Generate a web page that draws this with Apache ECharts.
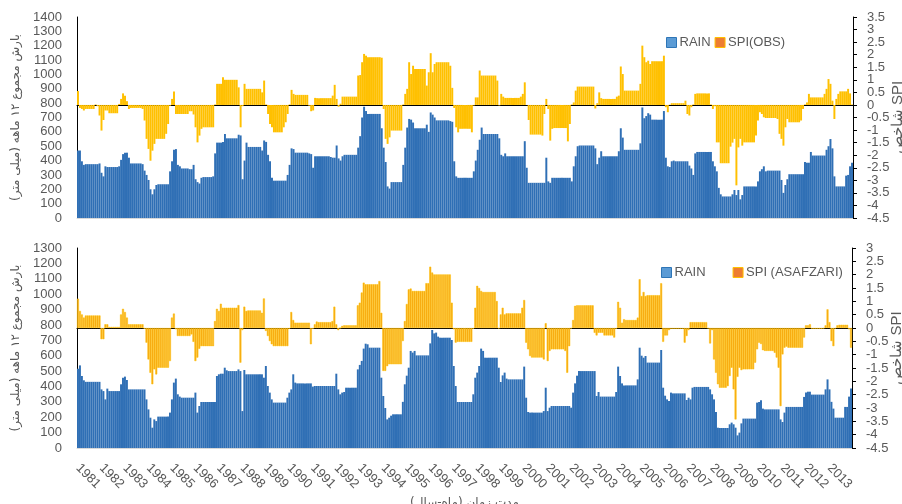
<!DOCTYPE html>
<html>
<head>
<meta charset="utf-8">
<script src="https://cdn.jsdelivr.net/npm/echarts/dist/echarts.min.js"></script>
<style>
  html, body { margin: 0; padding: 0; background: #ffffff; }
  #chart { width: 902px; height: 504px; }
</style>
</head>
<body>
<div id="chart"></div>
<script>
// Years on the time axis (monthly values, Jan 1981 - Dec 2013)
const years = [1981, 1982, 1983, 1984, 1985, 1986, 1987, 1988, 1989, 1990, 1991,
  1992, 1993, 1994, 1995, 1996, 1997, 1998, 1999, 2000, 2001, 2002,
  2003, 2004, 2005, 2006, 2007, 2008, 2009, 2010, 2011, 2012, 2013];

// 12-month rainfall total (mm), observed station - one row per year
const rainObs = [
  470, 470, 395, 370, 375, 375, 375, 375, 375, 375, 375, 380,
  315, 290, 360, 355, 355, 355, 355, 355, 355, 360, 405, 445,
  455, 455, 420, 380, 380, 380, 380, 380, 380, 375, 330, 300,
  265, 200, 165, 200, 230, 235, 235, 235, 235, 235, 235, 325,
  395, 475, 480, 370, 360, 345, 345, 345, 345, 340, 340, 370,
  270, 250, 240, 280, 285, 285, 285, 285, 285, 290, 450, 525,
  525, 525, 530, 585, 555, 555, 555, 555, 555, 555, 580, 575,
  270, 400, 525, 495, 495, 495, 495, 495, 495, 495, 470, 540,
  530, 440, 395, 280, 260, 260, 260, 260, 260, 260, 260, 300,
  370, 485, 480, 455, 455, 455, 455, 455, 455, 455, 450, 445,
  350, 430, 430, 430, 430, 430, 430, 430, 430, 425, 420, 420,
  505, 415, 400, 430, 440, 440, 440, 440, 440, 440, 440, 490,
  570, 700, 775, 745, 725, 725, 725, 725, 725, 725, 725, 625,
  490, 390, 220, 205, 250, 250, 250, 250, 250, 250, 370, 490,
  630, 690, 685, 665, 625, 625, 625, 625, 625, 625, 650, 600,
  735, 720, 700, 680, 680, 680, 680, 680, 680, 680, 675, 670,
  395, 290, 280, 280, 280, 280, 280, 280, 280, 280, 325, 400,
  475, 545, 630, 585, 585, 585, 585, 585, 585, 585, 585, 555,
  440, 430, 450, 430, 430, 430, 430, 430, 430, 430, 430, 430,
  535, 350, 245, 245, 245, 245, 245, 245, 245, 245, 245, 420,
  255, 245, 280, 280, 280, 280, 280, 280, 280, 280, 280, 280,
  255, 360, 430, 500, 505, 505, 505, 505, 505, 505, 505, 505,
  485, 375, 420, 465, 430, 430, 430, 430, 430, 430, 430, 430,
  465, 625, 560, 475, 475, 475, 475, 475, 475, 475, 475, 520,
  770, 695, 710, 730, 720, 685, 685, 685, 685, 685, 685, 745,
  420, 360, 355, 395, 400, 395, 395, 395, 395, 395, 395, 395,
  365, 345, 300, 450, 460, 460, 460, 460, 460, 460, 460, 460,
  395, 360, 325, 210, 165, 150, 150, 150, 150, 150, 165, 195,
  160, 195, 130, 160, 220, 220, 220, 220, 220, 220, 220, 255,
  325, 340, 360, 325, 330, 330, 330, 330, 330, 330, 330, 265,
  175, 230, 270, 305, 305, 305, 305, 305, 305, 305, 305, 390,
  385, 385, 460, 435, 435, 435, 435, 435, 435, 435, 475, 500,
  550, 485, 290, 220, 220, 220, 220, 220, 295, 300, 360, 385
];

// SPI, observed station
const spiObs = [
  0.55, -0.12, -0.16, -0.22, -0.16, -0.16, -0.16, -0.16, -0.16, 0.02, -0.05, -0.42,
  -1.02, -0.6, -0.22, -0.22, -0.33, -0.33, -0.33, -0.33, -0.33, 0.04, 0.24, 0.46,
  0.37, 0.15, -0.16, -0.12, -0.12, -0.12, -0.12, -0.12, -0.12, -0.16, -0.62, -1.35,
  -1.75, -2.22, -1.82, -1.55, -1.35, -1.35, -1.35, -1.35, -1.35, -1.15, -0.76, -0.03,
  0.24, 0.53, -0.36, -0.36, -0.36, -0.36, -0.36, -0.36, -0.36, -0.25, -0.25, -0.38,
  -0.89, -1.49, -1.22, -0.95, -0.89, -0.89, -0.89, -0.89, -0.89, -0.89, 0.02, 0.84,
  0.84, 0.84, 1.1, 1.0, 1.0, 1.0, 1.0, 1.0, 1.0, 1.0, 0.7, -0.89,
  -0.05, 0.84, 0.64, 0.64, 0.64, 0.64, 0.64, 0.64, 0.64, 0.64, 0.5, 0.97,
  0.02, -0.36, -0.76, -0.89, -1.09, -1.09, -1.09, -1.09, -1.09, -0.89, -0.69, -0.36,
  0.02, 0.6, 0.44, 0.4, 0.4, 0.4, 0.4, 0.4, 0.4, 0.4, -0.03, -0.25,
  -0.22, 0.28, 0.27, 0.27, 0.27, 0.27, 0.27, 0.27, 0.27, 0.27, 0.37, 0.8,
  0.24, -0.07, 0.05, 0.33, 0.33, 0.33, 0.33, 0.33, 0.33, 0.33, 0.33, 1.17,
  1.19, 1.7, 2.03, 1.96, 1.9, 1.9, 1.9, 1.9, 1.9, 1.9, 1.9, 1.88,
  -0.16, -1.35, -1.55, -1.29, -1.02, -1.02, -1.02, -1.02, -1.02, -1.02, 0.02, 0.44,
  0.64, 1.7, 1.23, 1.56, 1.43, 1.43, 1.43, 1.43, 1.43, 1.43, 0.77, 1.3,
  2.06, 1.3, 1.63, 1.7, 1.7, 1.7, 1.7, 1.7, 1.7, 1.7, 1.56, 0.68,
  -0.12, -0.89, -1.09, -0.95, -0.95, -0.95, -0.95, -0.95, -0.95, -1.09, -0.02, 0.3,
  0.3, 1.37, 1.17, 1.17, 1.17, 1.17, 1.17, 1.17, 1.17, 1.17, 0.97, -0.02,
  0.44, 0.33, 0.28, 0.28, 0.28, 0.28, 0.28, 0.28, 0.28, 0.28, 0.33, 0.44,
  0.9, 0.0, -0.6, -1.18, -1.18, -1.18, -1.18, -1.18, -1.18, -1.22, -0.36, 0.24,
  -0.16, -1.42, -0.95, -0.92, -0.92, -0.92, -0.92, -0.92, -0.92, -0.92, -1.45, -0.76,
  0.02, 0.1, 0.57, 0.73, 0.73, 0.73, 0.73, 0.73, 0.73, 0.73, 0.73, 0.73,
  -0.14, 0.07, 0.5, 0.27, 0.24, 0.24, 0.24, 0.24, 0.24, 0.24, 0.24, 0.33,
  0.37, 1.53, 1.23, 0.57, 0.57, 0.57, 0.57, 0.57, 0.57, 0.57, 0.57, 0.84,
  2.36, 1.9, 1.7, 1.76, 1.63, 1.74, 1.74, 1.74, 1.74, 1.74, 1.74, 1.96,
  -0.09, -0.29, 0.01, 0.07, 0.07, 0.07, 0.07, 0.07, 0.07, 0.07, 0.17, -0.36,
  -0.42, -0.09, 0.02, 0.44, 0.46, 0.46, 0.46, 0.46, 0.46, 0.46, 0.46, 0.02,
  -0.16, -0.05, -1.49, -1.49, -2.32, -2.32, -2.32, -2.32, -2.32, -1.66, -1.5, -1.35,
  -3.2, -1.69, -1.35, -1.62, -1.49, -1.49, -1.49, -1.49, -1.49, -1.49, -1.22, -0.62,
  -0.29, -0.36, -0.49, -0.52, -0.52, -0.52, -0.52, -0.52, -0.52, -0.56, -1.15, -1.35,
  -1.62, -0.89, -0.56, -0.69, -0.69, -0.69, -0.69, -0.69, -0.69, -0.62, -0.16, 0.02,
  0.1, 0.44, 0.3, 0.3, 0.3, 0.3, 0.3, 0.3, 0.3, 0.44, 0.64, 1.03,
  0.84, 0.17, -0.56, 0.24, 0.44, 0.54, 0.54, 0.54, 0.54, 0.64, 0.46, 0.02
];

// 12-month rainfall total (mm), Asafzari series
const rainAsf = [
  515, 537, 468, 440, 430, 430, 430, 430, 430, 430, 430, 430,
  381, 370, 316, 386, 370, 370, 370, 370, 370, 370, 414, 457,
  464, 442, 381, 381, 381, 381, 381, 381, 381, 381, 381, 316,
  251, 197, 132, 186, 175, 204, 204, 204, 204, 204, 204, 230,
  316, 425, 451, 349, 334, 327, 327, 327, 327, 327, 327, 327,
  360, 230, 273, 299, 299, 299, 299, 299, 299, 299, 299, 468,
  479, 483, 483, 522, 505, 500, 500, 500, 500, 500, 511, 500,
  240, 507, 479, 479, 479, 479, 479, 479, 479, 479, 479, 457,
  533, 403, 360, 316, 295, 295, 295, 295, 295, 295, 295, 327,
  360, 381, 479, 425, 420, 420, 420, 420, 420, 420, 420, 420,
  399, 403, 403, 403, 403, 403, 403, 403, 403, 403, 403, 403,
  483, 381, 349, 360, 364, 392, 392, 392, 392, 392, 392, 511,
  540, 566, 646, 678, 674, 652, 652, 652, 652, 652, 652, 457,
  338, 260, 186, 197, 210, 219, 219, 219, 219, 219, 300, 414,
  470, 522, 631, 620, 631, 602, 602, 602, 602, 602, 602, 602,
  680, 767, 745, 750, 724, 717, 717, 717, 717, 717, 717, 702,
  533, 403, 299, 299, 299, 299, 299, 299, 299, 299, 349, 457,
  490, 533, 646, 631, 587, 587, 587, 587, 587, 587, 587, 522,
  429, 472, 490, 451, 446, 446, 446, 446, 446, 446, 446, 446,
  529, 327, 234, 230, 230, 230, 230, 230, 230, 230, 240, 392,
  240, 262, 273, 273, 273, 273, 273, 273, 273, 273, 273, 273,
  262, 360, 420, 470, 500, 500, 500, 500, 500, 500, 500, 500,
  500, 338, 364, 334, 334, 334, 334, 334, 334, 334, 334, 364,
  529, 468, 420, 407, 407, 407, 407, 407, 407, 407, 446, 652,
  600, 587, 598, 555, 555, 555, 555, 555, 555, 555, 637, 392,
  340, 316, 306, 360, 355, 355, 355, 355, 355, 355, 355, 312,
  327, 316, 392, 397, 397, 397, 397, 397, 397, 397, 397, 381,
  349, 316, 234, 132, 130, 130, 130, 130, 130, 154, 165, 154,
  132, 82, 100, 160, 191, 191, 191, 191, 191, 191, 191, 295,
  299, 310, 256, 251, 251, 251, 251, 251, 251, 251, 251, 186,
  169, 230, 267, 267, 267, 267, 267, 267, 267, 267, 267, 332,
  360, 366, 366, 347, 347, 347, 347, 347, 347, 347, 381, 446,
  381, 300, 256, 197, 197, 197, 197, 197, 267, 267, 334, 386
];

// SPI, Asafzari series
const spiAsf = [
  1.1, 0.64, 0.51, 0.39, 0.47, 0.47, 0.47, 0.47, 0.47, 0.47, 0.47, 0.47,
  -0.42, -0.42, 0.14, 0.14, 0.04, 0.04, 0.04, 0.04, 0.04, 0.04, 0.51, 0.72,
  0.6, 0.39, 0.14, 0.14, 0.14, 0.14, 0.14, 0.14, 0.14, 0.14, -0.03, -0.55,
  -1.18, -1.68, -2.11, -1.55, -1.74, -1.49, -1.49, -1.49, -1.49, -1.49, -1.49, -1.24,
  0.39, 0.54, -0.05, -0.3, -0.3, -0.3, -0.3, -0.3, -0.3, -0.3, -0.24, -0.52,
  -1.24, -1.11, -0.78, -0.68, -0.68, -0.68, -0.68, -0.68, -0.68, -0.68, 0.26, 0.72,
  0.64, 0.91, 0.76, 0.76, 0.76, 0.76, 0.76, 0.76, 0.76, 0.76, 0.86, -1.3,
  -0.08, 0.8, 0.64, 0.66, 0.66, 0.66, 0.66, 0.66, 0.66, 0.66, 0.57, 1.11,
  -0.11, -0.3, -0.49, -0.61, -0.68, -0.68, -0.68, -0.68, -0.68, -0.68, -0.68, -0.68,
  -0.03, 0.6, 0.3, 0.2, 0.2, 0.2, 0.2, 0.2, 0.2, 0.2, 0.2, -0.61,
  -0.03, 0.14, 0.24, 0.22, 0.22, 0.22, 0.22, 0.22, 0.22, 0.22, 0.26, 0.8,
  0.14, -0.08, 0.0, 0.08, 0.1, 0.1, 0.1, 0.1, 0.1, 0.1, 0.1, 0.85,
  0.95, 1.33, 1.7, 1.64, 1.64, 1.64, 1.64, 1.64, 1.64, 1.64, 1.76, 0.57,
  -1.61, -1.61, -1.43, -1.36, -1.36, -1.36, -1.36, -1.36, -1.36, -1.36, -0.49, 0.26,
  0.9, 1.45, 1.48, 1.39, 1.39, 1.39, 1.39, 1.39, 1.39, 1.39, 1.68, 1.68,
  2.3, 2.08, 2.01, 2.01, 2.01, 2.01, 2.01, 2.01, 2.01, 2.01, 2.01, 0.95,
  -0.05, -0.55, -0.52, -0.52, -0.52, -0.52, -0.52, -0.52, -0.52, -0.52, -0.03, 0.76,
  1.58, 1.5, 1.39, 1.35, 1.35, 1.35, 1.35, 1.35, 1.35, 1.35, 1.01, -0.02,
  0.51, 0.76, 0.51, 0.55, 0.55, 0.55, 0.55, 0.55, 0.55, 0.55, 0.55, 0.76,
  1.05, -0.55, -0.8, -1.05, -1.11, -1.11, -1.11, -1.11, -1.11, -1.11, -1.18, 0.18,
  -1.24, -0.86, -0.8, -0.8, -0.8, -0.8, -0.8, -0.8, -0.8, -0.86, -1.68, -0.68,
  -0.02, 0.3, 0.83, 0.85, 0.85, 0.85, 0.85, 0.85, 0.85, 0.85, 0.85, 0.85,
  -0.18, -0.28, -0.18, -0.18, -0.18, -0.28, -0.28, -0.28, -0.28, -0.28, -0.36, -0.03,
  0.98, 0.76, 0.2, 0.33, 0.3, 0.3, 0.3, 0.3, 0.3, 0.3, 0.39, 1.83,
  1.2, 1.35, 1.2, 1.23, 1.23, 1.23, 1.23, 1.23, 1.23, 1.23, 1.68, -0.52,
  -0.28, -0.28, -0.08, -0.03, -0.03, -0.03, -0.03, -0.03, -0.03, -0.03, -0.55, -0.3,
  -0.08, 0.22, 0.22, 0.22, 0.22, 0.22, 0.22, 0.22, 0.22, 0.22, -0.02, -0.58,
  -0.08, -1.18, -1.68, -2.11, -2.24, -2.24, -2.24, -2.24, -2.18, -1.8, -1.49, -2.3,
  -3.43, -1.83, -1.49, -1.58, -1.55, -1.55, -1.55, -1.55, -1.55, -1.55, -1.3, -0.8,
  -0.55, -0.6, -0.83, -0.86, -0.86, -0.86, -0.86, -0.86, -0.93, -1.11, -1.49, -2.93,
  -0.99, -0.74, -0.7, -0.74, -0.74, -0.74, -0.74, -0.74, -0.74, -0.74, -0.74, -0.36,
  0.1, 0.1, 0.14, -0.03, -0.03, -0.03, -0.03, -0.03, -0.03, -0.02, 0.1, 0.7,
  0.22, -0.49, -0.68, -0.02, 0.1, 0.12, 0.12, 0.12, 0.12, 0.12, -0.05, -0.74
];

// Axis titles
const rainAxisTitle = '\u202Bبارش مجموع ۱۲ ماهه (میلی متر)\u202C';
const spiAxisTitle = 'شاخص SPI';
const timeAxisTitle = '\u202Bمدت زمان (ماه-سال)\u202C';

// Month categories: "YYYY-MM"; only the January entry of each year is labelled
const months = [];
years.forEach(function (y) {
  for (let m = 1; m <= 12; m++) months.push(y + '-' + (m < 10 ? '0' + m : m));
});

const FONT = '"Liberation Sans", Arial, sans-serif';
const GRAY = '#595959';
const BLUE = '#2F6FB5';
const GOLD = '#FFC000';
const ORANGE = '#ED7D31';

function catAxis(grid, withLabels) {
  return {
    type: 'category', gridIndex: grid, data: months, boundaryGap: true,
    axisLine: { show: true, lineStyle: { color: '#D9D9D9', width: 1 } },
    axisTick: { show: false },
    axisLabel: withLabels ? {
      show: true, interval: 11, rotate: -45, margin: 18,
      color: GRAY, fontSize: 13, fontFamily: FONT,
      formatter: function (v) { return v.slice(0, 4); }
    } : { show: false },
    splitLine: { show: false }
  };
}
function topFrame(grid) {
  return {
    type: 'category', gridIndex: grid, data: months, position: 'top',
    axisLine: { show: true, lineStyle: { color: '#000', width: 1 } },
    axisTick: { show: false }, axisLabel: { show: false }, splitLine: { show: false }
  };
}
function rainAxis(grid, max) {
  return {
    type: 'value', gridIndex: grid, position: 'left', min: 0, max: max, interval: 100,
    axisLine: { show: true, lineStyle: { color: '#000', width: 1 } },
    axisTick: { show: false }, splitLine: { show: false },
    axisLabel: {
      color: GRAY, fontSize: 13, fontFamily: FONT, margin: 15,
      showMinLabel: true, showMaxLabel: true,
      formatter: function (v) { return String(v); }
    },
    name: rainAxisTitle, nameLocation: 'middle', nameRotate: 90, nameGap: 55,
    nameTextStyle: { color: GRAY, fontSize: 12, fontFamily: '"DejaVu Sans", sans-serif' }
  };
}
// The SPI scale is labelled every 0.5; the labels are split over two
// coincident axes (half-step values and whole values) so that none of
// the closely spaced labels is dropped by overlap handling.
function isHalfStep(v) { return Math.abs(Math.round(v * 2)) % 2 === 1; }
function spiAxis(grid, min, max) {
  return {
    type: 'value', gridIndex: grid, position: 'right', min: min, max: max, interval: 0.5,
    axisLine: { show: true, lineStyle: { color: '#000', width: 1 } },
    axisTick: { show: true, inside: false, length: 4, lineStyle: { color: '#000' } },
    splitLine: { show: false },
    axisLabel: {
      interval: 0, color: GRAY, fontSize: 13, fontFamily: FONT, margin: 14,
      showMinLabel: true, showMaxLabel: true,
      formatter: function (v) { return isHalfStep(v) ? String(v) : ''; }
    },
    name: spiAxisTitle, nameLocation: 'middle', nameRotate: 90, nameGap: 37,
    nameMoveOverlap: false,
    nameTextStyle: { color: GRAY, fontSize: 15, fontFamily: FONT }
  };
}
function spiAxisWhole(grid, min, max) {
  return {
    type: 'value', gridIndex: grid, position: 'right', min: min, max: max, interval: 0.5,
    axisLine: { show: false }, axisTick: { show: false }, splitLine: { show: false },
    axisLabel: {
      interval: 0, color: GRAY, fontSize: 13, fontFamily: FONT, margin: 14,
      showMinLabel: true, showMaxLabel: true,
      formatter: function (v) { return isHalfStep(v) ? '' : String(v); }
    }
  };
}

const chart = echarts.init(document.getElementById('chart'), null, { renderer: 'canvas' });
chart.setOption({
  animation: false,
  backgroundColor: '#ffffff',
  textStyle: { fontFamily: FONT },
  legend: [
    {
      left: 661, top: 31, itemWidth: 10, itemHeight: 10, itemGap: 4, icon: 'rect',
      selectedMode: false,
      textStyle: { color: GRAY, fontSize: 13, fontFamily: FONT, padding: [0, 0, 0, -2] },
      data: [
        { name: 'RAIN', itemStyle: { color: '#5B9BD5', borderColor: '#2E75B6', borderWidth: 1 } },
        { name: 'SPI(OBS)', itemStyle: { color: ORANGE, borderColor: GOLD, borderWidth: 1 } }
      ]
    },
    {
      left: 656, top: 261, itemWidth: 10, itemHeight: 10, itemGap: 27, icon: 'rect',
      selectedMode: false,
      textStyle: { color: GRAY, fontSize: 13, fontFamily: FONT, padding: [0, 0, 0, -2] },
      data: [
        { name: 'RAIN', itemStyle: { color: '#5B9BD5', borderColor: '#2E75B6', borderWidth: 1 } },
        { name: 'SPI (ASAFZARI)', itemStyle: { color: ORANGE, borderColor: GOLD, borderWidth: 1 } }
      ]
    }
  ],
  grid: [
    { left: 77, right: 49, top: 17, height: 201, containLabel: false, outerBoundsMode: 'none' },
    { left: 77, right: 50, top: 248, height: 200, containLabel: false, outerBoundsMode: 'none' }
  ],
  xAxis: [
    catAxis(0, false),
    Object.assign(catAxis(1, true), {
      name: timeAxisTitle, nameLocation: 'middle', nameGap: 49,
      nameTextStyle: { color: GRAY, fontSize: 12, fontFamily: '"DejaVu Sans", sans-serif' }
    }),
    topFrame(0),
    topFrame(1)
  ],
  yAxis: [
    rainAxis(0, 1400),
    spiAxis(0, -4.5, 3.5),
    rainAxis(1, 1300),
    spiAxis(1, -4.5, 3),
    spiAxisWhole(0, -4.5, 3.5),
    spiAxisWhole(1, -4.5, 3)
  ],
  series: [
    {
      type: 'bar', name: 'RAIN', xAxisIndex: 0, yAxisIndex: 0, data: rainObs,
      barCategoryGap: '0%', barGap: '-100%', silent: true,
      itemStyle: { color: BLUE }
    },
    {
      type: 'bar', name: 'SPI(OBS)', xAxisIndex: 0, yAxisIndex: 1, data: spiObs,
      barCategoryGap: '0%', barGap: '-100%', silent: true,
      itemStyle: { color: GOLD }
    },
    {
      type: 'bar', name: 'RAIN', xAxisIndex: 1, yAxisIndex: 2, data: rainAsf,
      barCategoryGap: '0%', barGap: '-100%', silent: true,
      itemStyle: { color: BLUE }
    },
    {
      type: 'bar', name: 'SPI (ASAFZARI)', xAxisIndex: 1, yAxisIndex: 3, data: spiAsf,
      barCategoryGap: '0%', barGap: '-100%', silent: true,
      itemStyle: { color: '#F6A818', borderColor: GOLD, borderWidth: 0.5 }
    }
  ]
});
</script>
</body>
</html>
